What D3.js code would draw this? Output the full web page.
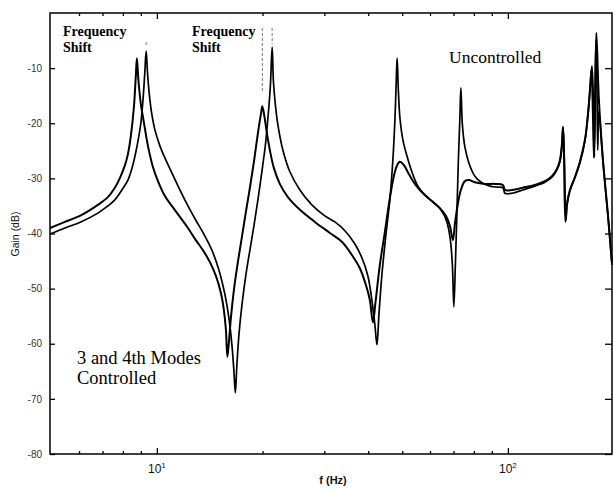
<!DOCTYPE html>
<html>
<head>
<meta charset="utf-8">
<script src="https://cdn.jsdelivr.net/npm/d3@7/dist/d3.min.js"></script>
<style>
  body { margin: 0; background: #fff; }
  svg { display: block; }
</style>
</head>
<body>
<svg id="chart" width="614" height="491"></svg>
<script>
// Gain axis ticks (dB)
const yTickValues = [-10, -20, -30, -40, -50, -60, -70, -80];
const yTickLabels = ["-10", "-20", "-30", "-40", "-50", "-60", "-70", "-80"];
// Frequency axis ticks (Hz)
const xMajorTicks = [10, 100];
const xMajorExponents = ["1", "2"];
const xMinorTicks = [6, 7, 8, 9, 20, 30, 40, 50, 60, 70, 80, 90];

// Response with the 3rd and 4th modes controlled
const controlledFreq = [4.96, 5.47, 6.07, 6.79, 7.25, 7.59, 7.85, 8.11, 8.27, 8.43, 8.60, 8.71, 8.77, 8.86, 9.00, 9.18, 9.43, 9.74, 10.07, 10.54, 11.03, 11.63, 12.26, 12.91, 13.52, 14.16, 14.73, 15.22, 15.52, 15.73, 15.88, 16.04, 16.25, 16.57, 17.01, 17.47, 17.93, 18.41, 18.90, 19.40, 19.79, 19.97, 20.24, 20.58, 20.99, 21.54, 22.40, 23.62, 25.56, 28.19, 31.11, 33.66, 35.94, 37.87, 39.39, 40.45, 41.25, 41.94, 43.18, 44.63, 46.10, 47.33, 48.30, 49.25, 50.55, 52.23, 54.33, 57.26, 60.75, 64.02, 66.59, 68.35, 69.71, 70.63, 72.03, 73.47, 75.42, 77.43, 80.54, 86.02, 91.84, 96.79, 98.07, 102.7, 110.3, 119.4, 127.5, 133.5, 137.9, 140.7, 142.5, 143.5, 144.4, 145.8, 147.2, 150.2, 155.2, 160.4, 165.8, 169.0, 171.3, 173.6, 175.2, 176.3, 177.5, 178.7, 181.7, 186.6, 192.8, 197.9];
const controlledGain = [-39.0, -37.9, -36.7, -34.8, -33.4, -31.7, -29.9, -27.6, -25.6, -22.3, -17.1, -11.4, -8.2, -12.2, -16.5, -19.8, -24.1, -27.9, -30.5, -33.2, -35.0, -37.0, -39.0, -41.2, -43.0, -45.2, -47.7, -50.8, -53.9, -57.5, -62.4, -59.7, -55.3, -50.3, -45.2, -40.6, -36.1, -31.7, -27.0, -21.8, -18.3, -16.9, -18.7, -21.8, -24.9, -28.1, -31.0, -33.4, -35.7, -37.9, -39.9, -41.5, -43.9, -46.3, -49.3, -52.1, -56.1, -52.6, -45.7, -39.7, -33.6, -29.6, -27.7, -27.0, -27.6, -29.2, -31.0, -32.7, -34.1, -35.4, -36.8, -38.6, -41.2, -38.3, -34.6, -32.1, -30.5, -30.3, -30.7, -31.0, -31.0, -31.2, -32.1, -32.1, -31.7, -31.2, -30.5, -29.6, -28.3, -26.7, -23.9, -20.7, -24.9, -37.9, -34.8, -32.1, -29.8, -27.0, -23.0, -18.5, -14.0, -9.6, -17.6, -26.1, -14.0, -3.6, -15.8, -26.7, -36.6, -45.2];

// Uncontrolled response
const uncontrolledFreq = [4.96, 5.47, 6.07, 6.79, 7.25, 7.59, 7.95, 8.27, 8.54, 8.77, 9.00, 9.15, 9.24, 9.32, 9.40, 9.52, 9.68, 9.87, 10.20, 10.61, 11.11, 11.63, 12.26, 12.91, 13.61, 14.34, 15.02, 15.62, 16.04, 16.36, 16.57, 16.73, 16.90, 17.13, 17.47, 17.93, 18.41, 18.90, 19.40, 19.91, 20.38, 20.78, 21.06, 21.30, 21.47, 21.69, 22.12, 22.86, 23.93, 25.56, 27.64, 30.10, 32.15, 34.33, 36.66, 38.38, 39.92, 40.98, 41.80, 42.36, 42.91, 43.76, 44.92, 46.10, 47.02, 47.66, 48.14, 48.36, 48.75, 49.25, 50.22, 51.56, 53.27, 55.41, 58.02, 61.15, 64.44, 67.02, 68.58, 69.48, 70.17, 70.86, 71.56, 72.27, 72.99, 73.47, 74.20, 75.42, 77.43, 80.54, 84.31, 88.86, 93.65, 96.79, 98.07, 102.7, 110.3, 119.4, 127.5, 133.5, 137.9, 140.7, 142.5, 143.7, 144.9, 146.3, 147.7, 150.2, 155.2, 160.4, 165.8, 169.0, 171.3, 172.9, 174.7, 175.8, 177.0, 178.3, 179.3, 180.3, 181.7, 186.6, 192.8, 197.9];
const uncontrolledGain = [-40.1, -39.0, -37.9, -36.3, -35.0, -33.9, -32.1, -30.3, -27.6, -24.3, -20.0, -14.9, -10.7, -6.9, -10.7, -14.9, -18.5, -21.2, -24.1, -26.7, -29.4, -32.1, -35.0, -37.6, -40.1, -43.0, -46.6, -51.0, -55.3, -60.2, -64.8, -68.9, -63.9, -58.4, -53.0, -47.5, -43.0, -38.6, -33.9, -28.8, -23.9, -18.1, -13.1, -6.2, -12.2, -15.8, -20.3, -24.9, -28.8, -32.1, -34.8, -36.8, -37.9, -39.5, -41.9, -44.4, -47.7, -52.1, -56.6, -60.2, -54.8, -47.5, -40.3, -33.9, -26.7, -19.4, -11.2, -8.2, -14.0, -19.0, -23.0, -25.9, -28.8, -31.4, -33.0, -34.3, -35.7, -37.9, -41.2, -45.7, -53.3, -45.7, -36.6, -26.7, -19.0, -13.6, -20.3, -24.3, -27.2, -29.6, -30.8, -31.4, -31.6, -31.7, -32.7, -32.7, -32.1, -31.4, -30.7, -29.8, -28.5, -27.0, -24.3, -20.7, -26.7, -37.6, -34.6, -32.3, -29.9, -27.2, -23.2, -18.7, -14.3, -10.3, -19.4, -26.3, -15.8, -4.9, -12.2, -24.9, -17.6, -27.0, -36.8, -45.7];

const svg = d3.select("#chart");
const plot = { left: 50, right: 612, top: 13, bottom: 454 };

const x = d3.scaleLog().domain([4.96, 198]).range([plot.left, plot.right]);
const y = d3.scaleLinear().domain([0, -80]).range([plot.top, plot.bottom]);

// Frame
svg.append("rect")
  .attr("x", plot.left).attr("y", plot.top)
  .attr("width", plot.right - plot.left).attr("height", plot.bottom - plot.top)
  .attr("fill", "none").attr("stroke", "#000").attr("stroke-width", 1.5);

// Left axis, inward ticks
const yAxisLeft = d3.axisLeft(y).tickValues(yTickValues)
  .tickSize(-5).tickPadding(8)
  .tickFormat((d, i) => yTickLabels[i]);
const gl = svg.append("g").attr("transform", `translate(${plot.left},0)`).call(yAxisLeft);
gl.select(".domain").remove();
gl.selectAll("text").attr("font-family", "Liberation Sans, Arial, sans-serif")
  .attr("font-size", 10).attr("fill", "#333");

// Right axis, inward ticks, no labels
const yAxisRight = d3.axisRight(y).tickValues(yTickValues).tickSize(-7).tickFormat("");
const gr = svg.append("g").attr("transform", `translate(${plot.right},0)`).call(yAxisRight);
gr.select(".domain").remove();

// Bottom axis: major and minor ticks pointing up
const gbMinor = svg.append("g").attr("transform", `translate(0,${plot.bottom})`)
  .call(d3.axisBottom(x).tickValues(xMinorTicks).tickSize(-3).tickFormat(""));
gbMinor.select(".domain").remove();
const gbMajor = svg.append("g").attr("transform", `translate(0,${plot.bottom})`)
  .call(d3.axisBottom(x).tickValues(xMajorTicks).tickSize(-6).tickFormat(""));
gbMajor.select(".domain").remove();

// Top axis: ticks pointing down
const gtMinor = svg.append("g").attr("transform", `translate(0,${plot.top})`)
  .call(d3.axisTop(x).tickValues(xMinorTicks).tickSize(-3).tickFormat(""));
gtMinor.select(".domain").remove();
const gtMajor = svg.append("g").attr("transform", `translate(0,${plot.top})`)
  .call(d3.axisTop(x).tickValues(xMajorTicks).tickSize(-6).tickFormat(""));
gtMajor.select(".domain").remove();
svg.selectAll(".tick line").attr("stroke", "#000").attr("stroke-width", 1.3);

// Decade labels with superscript exponents
xMajorTicks.forEach((v, i) => {
  const t = svg.append("text")
    .attr("x", x(v)).attr("y", plot.bottom + 19)
    .attr("text-anchor", "middle")
    .attr("font-family", "Liberation Sans, Arial, sans-serif")
    .attr("font-size", 12).attr("fill", "#111");
  t.append("tspan").text("10");
  t.append("tspan").attr("dy", -5).attr("font-size", 8).text(xMajorExponents[i]);
});

// Axis titles
svg.append("text")
  .attr("x", 333).attr("y", 484)
  .attr("text-anchor", "middle")
  .attr("font-family", "Liberation Sans, Arial, sans-serif")
  .attr("font-size", 11).attr("font-weight", "bold").attr("fill", "#111")
  .text("f (Hz)");
svg.append("text")
  .attr("transform", "translate(19,234) rotate(-90)")
  .attr("text-anchor", "middle")
  .attr("font-family", "Liberation Sans, Arial, sans-serif")
  .attr("font-size", 10.5).attr("fill", "#111")
  .text("Gain (dB)");

// Frequency response curves
const line = d3.line()
  .x(d => x(d[0])).y(d => y(d[1]))
  .curve(d3.curveCatmullRom.alpha(0.5));
const controlled = controlledFreq.map((f, i) => [f, controlledGain[i]]);
const uncontrolled = uncontrolledFreq.map((f, i) => [f, uncontrolledGain[i]]);

svg.append("path").datum(uncontrolled)
  .attr("d", line).attr("fill", "none")
  .attr("stroke", "#000").attr("stroke-width", 1.7).attr("stroke-linejoin", "round");
svg.append("path").datum(controlled)
  .attr("d", line).attr("fill", "none")
  .attr("stroke", "#000").attr("stroke-width", 2).attr("stroke-linejoin", "round");

// Dotted markers over the shifted peaks
const peakMarks = [[19.97, 28, 92], [21.30, 28, 44], [9.32, 42, 46]];
peakMarks.forEach(([f, y0, y1]) => {
  svg.append("line")
    .attr("x1", x(f)).attr("x2", x(f)).attr("y1", y0).attr("y2", y1)
    .attr("stroke", "#555").attr("stroke-width", 0.8)
    .attr("stroke-dasharray", "3,2");
});

// Annotations, one text element per line
const serif = "Liberation Serif, Times New Roman, serif";
function note(xp, yp, size, gap, lines, weight) {
  lines.forEach((s, i) => {
    svg.append("text").attr("x", xp).attr("y", yp + i * gap)
      .attr("font-family", serif).attr("font-size", size)
      .attr("font-weight", weight || "normal").attr("fill", "#000")
      .text(s);
  });
}
note(63, 36, 14, 16, ["Frequency", "Shift"], "bold");
note(192, 36, 14, 16, ["Frequency", "Shift"], "bold");
note(449, 63, 17.5, 0, ["Uncontrolled"]);
note(77, 364, 18.5, 20, ["3 and 4th Modes", "Controlled"]);
</script>
</body>
</html>
